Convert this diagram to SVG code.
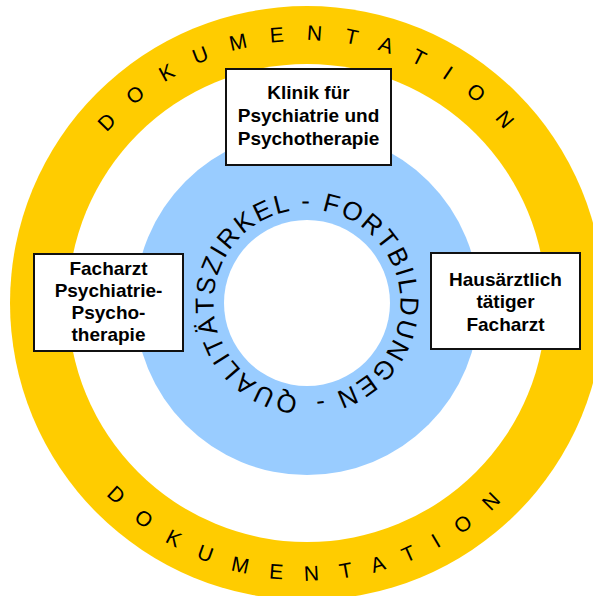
<svg xmlns="http://www.w3.org/2000/svg" xmlns:xlink="http://www.w3.org/1999/xlink" width="593" height="596" viewBox="0 0 593 596">
<style>
.ring{font-family:"Liberation Sans",Arial,sans-serif;font-size:21px;fill:#000}
.inner{font-family:"Liberation Sans",Arial,sans-serif;font-size:26px;fill:#000;letter-spacing:2.3px}
.box{fill:#fff;stroke:#111;stroke-width:2}
.lbl{font-family:"Liberation Sans",Arial,sans-serif;font-size:19px;font-weight:bold;fill:#000;text-anchor:middle}
</style>
<defs>
<path id="topArc" d="M 107.1 132.9 A 262.5 262.5 0 0 1 534.3 171.75"/>
<path id="botArc" d="M 106.4 494.7 A 277.5 277.5 0 0 0 547.3 441.75"/>
<path id="innerArc" d="M 298.36 396.1 A 93.5 93.5 0 0 1 315.64 209.9 A 93.5 93.5 0 0 1 298.36 396.1"/>
</defs>
<rect width="593" height="596" fill="#fff"/>
<g id="dokumentation-ring">
<circle cx="307" cy="303" r="297" fill="#FFCC00"/>
<circle cx="307" cy="303" r="239" fill="#fff"/>
<text class="ring" style="letter-spacing:22.4px"><textPath xlink:href="#topArc" href="#topArc">DOKUMENTATION</textPath></text>
<text class="ring" style="letter-spacing:21.5px"><textPath xlink:href="#botArc" href="#botArc">DOKUMENTATION</textPath></text>
</g>
<g id="fortbildung-ring">
<circle cx="307" cy="303" r="172" fill="#99CCFF"/>
<circle cx="307" cy="303" r="83" fill="#fff"/>
<text class="inner"><textPath xlink:href="#innerArc" href="#innerArc">QUALITÄTSZIRKEL - FORTBILDUNGEN -</textPath></text>
</g>
<g id="connectors"></g>
<g id="klinik">
<rect class="box" x="226" y="69" width="165" height="96"/>
<text class="lbl" x="308.5" y="98.5">Klinik für</text>
<text class="lbl" x="308.5" y="121.5">Psychiatrie und</text>
<text class="lbl" x="308.5" y="144.5">Psychotherapie</text>
</g>
<g id="facharzt-psychiatrie">
<rect class="box" x="34" y="254" width="149" height="97"/>
<text class="lbl" x="108.5" y="275">Facharzt</text>
<text class="lbl" x="108.5" y="297">Psychiatrie-</text>
<text class="lbl" x="108.5" y="319">Psycho-</text>
<text class="lbl" x="108.5" y="341">therapie</text>
</g>
<g id="hausarzt">
<rect class="box" x="431" y="253" width="149" height="96"/>
<text class="lbl" x="505.5" y="285.5">Hausärztlich</text>
<text class="lbl" x="505.5" y="308">tätiger</text>
<text class="lbl" x="505.5" y="330.5">Facharzt</text>
</g>
</svg>
